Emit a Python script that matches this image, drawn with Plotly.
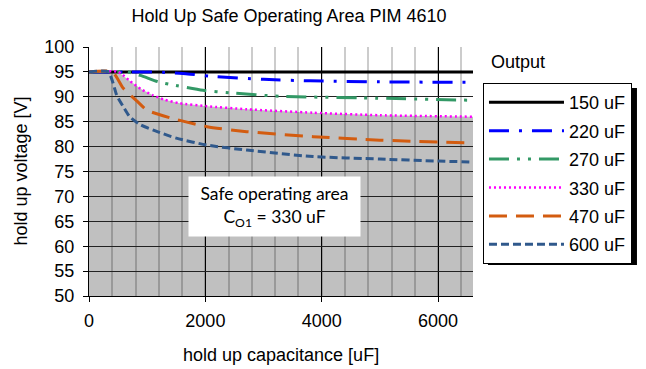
import plotly.graph_objects as go

# ---- data ----
x_150 = [0, 6600]
y_150 = [95, 95]

x_220 = [0, 700, 1000, 1300, 1700, 2100, 3000, 3800, 5000, 6600]
y_220 = [95, 95, 95.0, 94.9, 94.6, 94.1, 93.5, 93.2, 93.0, 92.9]

x_270 = [0, 650, 880, 1190, 1390, 1960, 2420, 3280, 4650, 6600]
y_270 = [95, 95, 94.3, 93.0, 92.5, 91.3, 90.8, 90.1, 89.8, 89.3]

x_330 = [0, 500, 700, 900, 1100, 1300, 1560, 2030, 2710, 3850, 5000, 6600]
y_330 = [95, 95, 93.2, 91.5, 90.3, 89.4, 88.7, 88.1, 87.5, 86.8, 86.3, 86.0]

x_470 = [0, 400, 590, 820, 1000, 1390, 2030, 2710, 3850, 5000, 6600]
y_470 = [95, 95, 91.7, 89.2, 87.3, 85.8, 84.0, 83.0, 82.0, 81.3, 80.7]

x_600 = [0, 330, 480, 590, 700, 880, 1130, 1500, 2030, 2710, 3850, 5000, 6000, 6600]
y_600 = [95, 95, 90.2, 88.0, 86.0, 84.4, 83.2, 81.7, 80.3, 79.3, 78.0, 77.5, 77.1, 76.9]

series_names = ["150 uF", "220 uF", "270 uF", "330 uF", "470 uF", "600 uF"]
x_ticks = [0, 2000, 4000, 6000]
y_ticks = [50, 55, 60, 65, 70, 75, 80, 85, 90, 95, 100]
x_range = [0, 6600]
y_range = [50, 100]

styles = [
    dict(color="#000000", width=3, dash="solid"),
    dict(color="#0000ff", width=3, dash="20px,10px,3px,10px"),
    dict(color="#339966", width=3, dash="20px,8px,3px,8px,3px,8px"),
    dict(color="#ff00ff", width=2.5, dash="2px,3px"),
    dict(color="#d35c10", width=3, dash="18px,9px"),
    dict(color="#30598c", width=3, dash="8px,4px"),
]

xs = [x_150, x_220, x_270, x_330, x_470, x_600]
ys = [y_150, y_220, y_270, y_330, y_470, y_600]

FONT = "Liberation Sans"

fig = go.Figure()
for name, xv, yv, st in zip(series_names, xs, ys, styles):
    fig.add_trace(go.Scatter(
        x=xv, y=yv, mode="lines", name=name, legendgroup=name,
        line=dict(color=st["color"], width=st["width"], dash=st["dash"],
                  shape="spline", smoothing=0.6),
    ))

# safe operating area fill (under the 330 uF curve), drawn below gridlines
path = "M {},{} ".format(x_range[0], y_range[0])
for xv, yv in zip(x_330, y_330):
    path += "L {},{} ".format(xv, yv)
path += "L {},{} Z".format(x_range[1], y_range[0])
fig.add_shape(type="path", path=path, xref="x", yref="y", layer="below",
              fillcolor="#c0c0c0", line=dict(width=0))

# legend shadow
fig.add_shape(type="rect", xref="paper", yref="paper",
              x0=1.039, x1=1.427, y0=0.1245, y1=0.835,
              fillcolor="#000000", line=dict(width=0), layer="above")

fig.add_annotation(x=3193, y=67.9, xref="x", yref="y",
                   text="Safe operating area<br>C<sub>O1</sub> = 330 uF",
                   showarrow=False, bgcolor="#ffffff", width=169, height=57,
                   font=dict(family="Lato", size=17.5, color="#000000"))

fig.add_annotation(x=1.042, y=0.94, xref="paper", yref="paper",
                   text="Output", showarrow=False, xanchor="left", yanchor="middle",
                   font=dict(family=FONT, size=18, color="#000000"))

# axis titles
fig.add_annotation(x=0.5, y=0, xref="paper", yref="paper", yshift=-59,
                   text="hold up capacitance [uF]", showarrow=False,
                   xanchor="center", yanchor="middle",
                   font=dict(family=FONT, size=18, color="#000000"))
fig.add_annotation(x=0, y=0.5, xref="paper", yref="paper", xshift=-69,
                   text="hold up voltage [V]", showarrow=False, textangle=-90,
                   xanchor="center", yanchor="middle",
                   font=dict(family=FONT, size=18, color="#000000"))

fig.update_layout(
    width=646, height=369,
    margin=dict(l=89, r=173, t=47, b=73),
    paper_bgcolor="#ffffff", plot_bgcolor="#ffffff",
    font=dict(family=FONT, size=18, color="#000000"),
    title=dict(text="Hold Up Safe Operating Area PIM 4610", x=289 / 646, xanchor="center",
               y=1 - 16 / 369, yanchor="middle", font=dict(size=18)),
    showlegend=True,
    legend=dict(x=1.026, y=0.855, xanchor="left", yanchor="top",
                bgcolor="#ffffff", bordercolor="#000000", borderwidth=1,
                font=dict(size=18), itemwidth=75, tracegroupgap=2,
                traceorder="grouped"),
)
fig.update_xaxes(range=x_range, tickvals=x_ticks, ticks="outside", ticklen=5,
                 tickcolor="#000000", showgrid=True, gridcolor="#000000", gridwidth=1,
                 minor=dict(dtick=400, showgrid=True, gridcolor="rgba(0,0,0,0.2)", gridwidth=1.5),
                 zeroline=False, showline=True, linecolor="#000000",
                 tickfont=dict(size=18), ticklabelstandoff=3)
fig.update_yaxes(range=y_range, tickvals=y_ticks, ticks="outside", ticklen=5,
                 tickcolor="#000000", showgrid=True, gridcolor="#222222", gridwidth=1,
                 zeroline=False, showline=True, linecolor="#000000",
                 tickfont=dict(size=18), ticklabelstandoff=5)

fig.write_html("out.html", config={"displayModeBar": False},
               post_script="document.body.style.margin='0px';")
